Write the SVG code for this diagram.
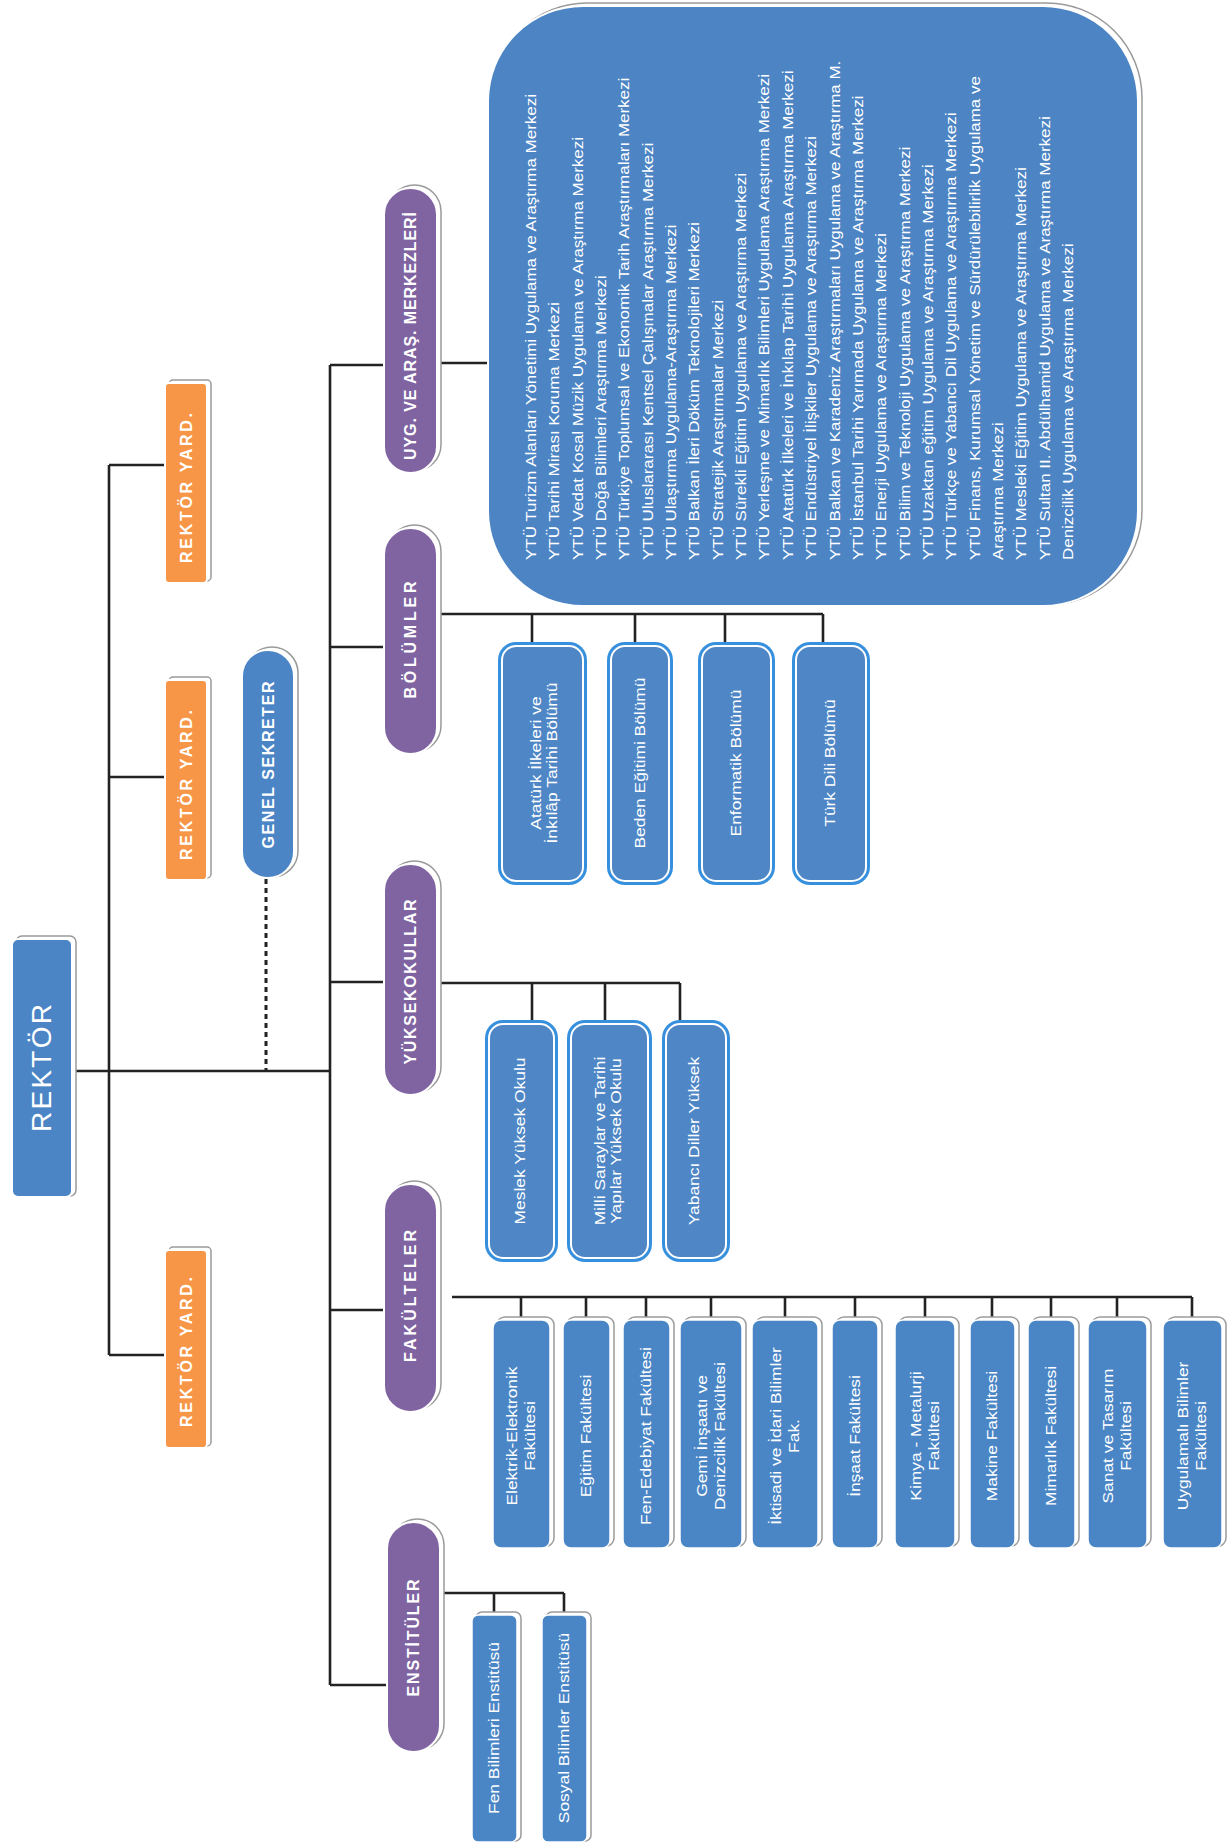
<svg xmlns="http://www.w3.org/2000/svg" width="1229" height="1846" viewBox="0 0 1229 1846">
<style>
.ln{fill:none;stroke:#222;stroke-width:2.6}
.dot{fill:none;stroke:#222;stroke-width:3;stroke-dasharray:5 4}
.sh{fill:#fff;stroke:#9a9a9a;stroke-width:1.5}
.pur{fill:#8064a2;stroke:#fff;stroke-width:2}
.org{fill:#f79646;stroke:#fff;stroke-width:2}
.blu{fill:#4b85c6;stroke:#fff;stroke-width:2}
.fk{fill:#4a86c6;stroke:#fff;stroke-width:1.5}
.ring{fill:#3790de}
.inr{fill:#4f87c6;stroke:#fff;stroke-width:2}
text{font-family:"Liberation Sans",Arial,sans-serif;fill:#fff}
.hd{font-size:16px;font-weight:bold}
.bx{font-size:14.5px}
.ls{font-size:14.5px}
</style>
<rect width="1229" height="1846" fill="#fff"/>

<g id="connectors">
<path class="ln" d="M72 1071H330M109 465V1355M109 465H165M109 777H165M109 1355H165"/>
<path class="ln" d="M330 365V1685M330 365H384M330 647H384M330 982H384M330 1310H384M330 1685H387"/>
<path class="ln" d="M437 363H488"/>
<path class="ln" d="M437 614H823M532 614V643M635 614V643M725 614V643M823 614V643"/>
<path class="ln" d="M437 983H680M532 983V1021M605 983V1021M680 983V1021"/>
<path class="ln" d="M452 1297H1192M521 1297V1320M586 1297V1320M646 1297V1320M711 1297V1320M785 1297V1320M855 1297V1320M925 1297V1320M992 1297V1320M1051 1297V1320M1117 1297V1320M1192 1297V1320"/>
<path class="ln" d="M442 1593H564M494 1593V1615M564 1593V1615"/>
<path class="dot" d="M266 879V1071"/>
</g>

<g id="rektor">
<rect class="sh" x="16" y="936" width="60" height="260" rx="6"/>
<rect class="blu" x="12" y="939" width="60" height="258" rx="6"/>
<text transform="translate(41,1068) rotate(-90)" text-anchor="middle" y="10" font-size="28" textLength="128" lengthAdjust="spacing">REKTÖR</text>
</g>

<g id="rektor-yard-1">
<rect class="sh" x="169" y="380" width="42" height="201" rx="4"/>
<rect class="org" x="165" y="383" width="42" height="200" rx="4"/>
<text class="hd" transform="translate(186,488) rotate(-90)" text-anchor="middle" y="6" textLength="150" lengthAdjust="spacing">REKTÖR YARD.</text>
</g>
<g id="rektor-yard-2">
<rect class="sh" x="169" y="677" width="42" height="201" rx="4"/>
<rect class="org" x="165" y="680" width="42" height="200" rx="4"/>
<text class="hd" transform="translate(186,785) rotate(-90)" text-anchor="middle" y="6" textLength="150" lengthAdjust="spacing">REKTÖR YARD.</text>
</g>
<g id="rektor-yard-3">
<rect class="sh" x="169" y="1247" width="42" height="199" rx="4"/>
<rect class="org" x="165" y="1250" width="42" height="198" rx="4"/>
<text class="hd" transform="translate(186,1352) rotate(-90)" text-anchor="middle" y="6" textLength="150" lengthAdjust="spacing">REKTÖR YARD.</text>
</g>

<g id="genel-sekreter">
<rect class="sh" x="246" y="647" width="52" height="230" rx="26"/>
<rect class="blu" x="242" y="650" width="52" height="228" rx="26"/>
<text class="hd" transform="translate(268,765) rotate(-90)" text-anchor="middle" y="6" textLength="167" lengthAdjust="spacing">GENEL SEKRETER</text>
</g>

<g id="uyg-arastirma">
<rect class="sh" x="388" y="185" width="53" height="286" rx="26.5"/>
<rect class="pur" x="384" y="188" width="53" height="285" rx="26.5"/>
<text class="hd" transform="translate(410,336) rotate(-90)" text-anchor="middle" y="6" textLength="248" lengthAdjust="spacing">UYG. VE ARAŞ. MERKEZLERİ</text>
</g>
<g id="bolumler">
<rect class="sh" x="388" y="525" width="53" height="227" rx="26.5"/>
<rect class="pur" x="384" y="528" width="53" height="226" rx="26.5"/>
<text class="hd" transform="translate(410,640) rotate(-90)" text-anchor="middle" y="6" textLength="117" lengthAdjust="spacing">BÖLÜMLER</text>
</g>
<g id="yuksekokullar">
<rect class="sh" x="388" y="861" width="53" height="232" rx="26.5"/>
<rect class="pur" x="384" y="864" width="53" height="231" rx="26.5"/>
<text class="hd" transform="translate(410,982) rotate(-90)" text-anchor="middle" y="6" textLength="165" lengthAdjust="spacing">YÜKSEKOKULLAR</text>
</g>
<g id="fakulteler">
<rect class="sh" x="388" y="1181" width="53" height="229" rx="26.5"/>
<rect class="pur" x="384" y="1184" width="53" height="228" rx="26.5"/>
<text class="hd" transform="translate(410,1296) rotate(-90)" text-anchor="middle" y="6" textLength="132" lengthAdjust="spacing">FAKÜLTELER</text>
</g>
<g id="enstituler">
<rect class="sh" x="391" y="1519" width="53" height="231" rx="26.5"/>
<rect class="pur" x="387" y="1522" width="53" height="230" rx="26.5"/>
<text class="hd" transform="translate(413,1638) rotate(-90)" text-anchor="middle" y="6" textLength="117" lengthAdjust="spacing">ENSTİTÜLER</text>
</g>

<g id="merkezler-listesi">
<rect class="sh" x="492" y="3" width="650" height="602" rx="95"/>
<rect fill="#4c84c4" stroke="#fff" stroke-width="2" x="488" y="6" width="650" height="600" rx="95"/>
<text class="ls" transform="translate(0,560) rotate(-90) scale(1.17,1)">
<tspan x="0" y="536">YTÜ Turizm Alanları Yönetimi Uygulama ve Araştırma Merkezi</tspan>
<tspan x="0" y="559.4">YTÜ Tarihi Mirası Koruma Merkezi</tspan>
<tspan x="0" y="582.7">YTÜ Vedat Kosal Müzik Uygulama ve Araştırma Merkezi</tspan>
<tspan x="0" y="606.1">YTÜ Doğa Bilimleri Araştırma Merkezi</tspan>
<tspan x="0" y="629.4">YTÜ Türkiye Toplumsal ve Ekonomik Tarih Araştırmaları Merkezi</tspan>
<tspan x="0" y="652.8">YTÜ Uluslararası Kentsel Çalışmalar Araştırma Merkezi</tspan>
<tspan x="0" y="676.1">YTÜ Ulaştırma Uygulama-Araştırma Merkezi</tspan>
<tspan x="0" y="699.5">YTÜ Balkan İleri Döküm Teknolojileri Merkezi</tspan>
<tspan x="0" y="722.8">YTÜ Stratejik Araştırmalar Merkezi</tspan>
<tspan x="0" y="746.2">YTÜ Sürekli Eğitim Uygulama ve Araştırma Merkezi</tspan>
<tspan x="0" y="769.5">YTÜ Yerleşme ve Mimarlık Bilimleri Uygulama Araştırma Merkezi</tspan>
<tspan x="0" y="792.9">YTÜ Atatürk İlkeleri ve İnkılap Tarihi Uygulama Araştırma Merkezi</tspan>
<tspan x="0" y="816.2">YTÜ Endüstriyel İlişkiler Uygulama ve Araştırma Merkezi</tspan>
<tspan x="0" y="839.6">YTÜ Balkan ve Karadeniz Araştırmaları Uygulama ve Araştırma M.</tspan>
<tspan x="0" y="862.9">YTÜ İstanbul Tarihi Yarımada Uygulama ve Araştırma Merkezi</tspan>
<tspan x="0" y="886.3">YTÜ Enerji Uygulama ve Araştırma Merkezi</tspan>
<tspan x="0" y="909.6">YTÜ Bilim ve Teknoloji Uygulama ve Araştırma Merkezi</tspan>
<tspan x="0" y="933">YTÜ Uzaktan eğitim Uygulama ve Araştırma Merkezi</tspan>
<tspan x="0" y="956.3">YTÜ Türkçe ve Yabancı Dil Uygulama ve Araştırma Merkezi</tspan>
<tspan x="0" y="979.7">YTÜ Finans, Kurumsal Yönetim ve Sürdürülebilirlik Uygulama ve</tspan>
<tspan x="0" y="1003">Araştırma Merkezi</tspan>
<tspan x="0" y="1026.4">YTÜ Mesleki Eğitim Uygulama ve Araştırma Merkezi</tspan>
<tspan x="0" y="1049.7">YTÜ Sultan II. Abdülhamid Uygulama ve Araştırma Merkezi</tspan>
<tspan x="0" y="1073.1">Denizcilik Uygulama ve Araştırma Merkezi</tspan>
</text>
</g>

<g id="bolum-ataturk">
<rect class="ring" x="498" y="642" width="89" height="243" rx="18"/>
<rect class="inr" x="502" y="646" width="81" height="235" rx="14"/>
<text class="bx" transform="translate(544,763) rotate(-90) scale(1.2,1)" text-anchor="middle"><tspan x="0" y="-3.5">Atatürk İlkeleri ve</tspan><tspan x="0" y="13.5">İnkılâp Tarihi Bölümü</tspan></text>
</g>
<g id="bolum-beden">
<rect class="ring" x="607" y="642" width="66" height="243" rx="18"/>
<rect class="inr" x="611" y="646" width="58" height="235" rx="14"/>
<text class="bx" transform="translate(640,763) rotate(-90) scale(1.2,1)" text-anchor="middle" y="5">Beden Eğitimi Bölümü</text>
</g>
<g id="bolum-enformatik">
<rect class="ring" x="698" y="642" width="77" height="243" rx="18"/>
<rect class="inr" x="702" y="646" width="69" height="235" rx="14"/>
<text class="bx" transform="translate(736,763) rotate(-90) scale(1.2,1)" text-anchor="middle" y="5">Enformatik Bölümü</text>
</g>
<g id="bolum-turkdili">
<rect class="ring" x="792" y="642" width="78" height="243" rx="18"/>
<rect class="inr" x="796" y="646" width="70" height="235" rx="14"/>
<text class="bx" transform="translate(830,763) rotate(-90) scale(1.2,1)" text-anchor="middle" y="5">Türk Dili Bölümü</text>
</g>

<g id="yo-meslek">
<rect class="ring" x="485" y="1020" width="73" height="242" rx="18"/>
<rect class="inr" x="489" y="1024" width="65" height="234" rx="14"/>
<text class="bx" transform="translate(520,1141) rotate(-90) scale(1.2,1)" text-anchor="middle" y="5">Meslek Yüksek Okulu</text>
</g>
<g id="yo-milli-saraylar">
<rect class="ring" x="567" y="1020" width="85" height="242" rx="18"/>
<rect class="inr" x="571" y="1024" width="77" height="234" rx="14"/>
<text class="bx" transform="translate(608,1141) rotate(-90) scale(1.2,1)" text-anchor="middle"><tspan x="0" y="-3.5">Milli Saraylar ve Tarihi</tspan><tspan x="0" y="13.5">Yapılar Yüksek Okulu</tspan></text>
</g>
<g id="yo-yabanci-diller">
<rect class="ring" x="662" y="1020" width="68" height="242" rx="18"/>
<rect class="inr" x="666" y="1024" width="60" height="234" rx="14"/>
<text class="bx" transform="translate(694,1141) rotate(-90) scale(1.2,1)" text-anchor="middle" y="5">Yabancı Diller Yüksek</text>
</g>

<g id="fak-elektrik">
<rect class="sh" x="497" y="1317" width="57" height="229" rx="8"/>
<rect class="fk" x="493" y="1320" width="57" height="228" rx="8"/>
<text class="bx" transform="translate(521,1436) rotate(-90) scale(1.2,1)" text-anchor="middle"><tspan x="0" y="-4">Elektrik-Elektronik</tspan><tspan x="0" y="14">Fakültesi</tspan></text>
</g>
<g id="fak-egitim">
<rect class="sh" x="567" y="1317" width="47" height="229" rx="8"/>
<rect class="fk" x="563" y="1320" width="47" height="228" rx="8"/>
<text class="bx" transform="translate(586,1436) rotate(-90) scale(1.2,1)" text-anchor="middle" y="5">Eğitim Fakültesi</text>
</g>
<g id="fak-fen-edebiyat">
<rect class="sh" x="627" y="1317" width="47" height="229" rx="8"/>
<rect class="fk" x="623" y="1320" width="47" height="228" rx="8"/>
<text class="bx" transform="translate(646,1436) rotate(-90) scale(1.2,1)" text-anchor="middle" y="5">Fen-Edebiyat Fakültesi</text>
</g>
<g id="fak-gemi">
<rect class="sh" x="684" y="1317" width="62" height="229" rx="8"/>
<rect class="fk" x="680" y="1320" width="62" height="228" rx="8"/>
<text class="bx" transform="translate(711,1436) rotate(-90) scale(1.2,1)" text-anchor="middle"><tspan x="0" y="-4">Gemi İnşaatı ve</tspan><tspan x="0" y="14">Denizcilik Fakültesi</tspan></text>
</g>
<g id="fak-iktisadi">
<rect class="sh" x="756" y="1317" width="66" height="229" rx="8"/>
<rect class="fk" x="752" y="1320" width="66" height="228" rx="8"/>
<text class="bx" transform="translate(785,1436) rotate(-90) scale(1.2,1)" text-anchor="middle"><tspan x="0" y="-4">İktisadi ve İdari Bilimler</tspan><tspan x="0" y="14">Fak.</tspan></text>
</g>
<g id="fak-insaat">
<rect class="sh" x="836" y="1317" width="46" height="229" rx="8"/>
<rect class="fk" x="832" y="1320" width="46" height="228" rx="8"/>
<text class="bx" transform="translate(855,1436) rotate(-90) scale(1.2,1)" text-anchor="middle" y="5">İnşaat Fakültesi</text>
</g>
<g id="fak-kimya">
<rect class="sh" x="899" y="1317" width="60" height="229" rx="8"/>
<rect class="fk" x="895" y="1320" width="60" height="228" rx="8"/>
<text class="bx" transform="translate(925,1436) rotate(-90) scale(1.2,1)" text-anchor="middle"><tspan x="0" y="-4">Kimya - Metalurji</tspan><tspan x="0" y="14">Fakültesi</tspan></text>
</g>
<g id="fak-makine">
<rect class="sh" x="974" y="1317" width="45" height="229" rx="8"/>
<rect class="fk" x="970" y="1320" width="45" height="228" rx="8"/>
<text class="bx" transform="translate(992,1436) rotate(-90) scale(1.2,1)" text-anchor="middle" y="5">Makine Fakültesi</text>
</g>
<g id="fak-mimarlik">
<rect class="sh" x="1032" y="1317" width="47" height="229" rx="8"/>
<rect class="fk" x="1028" y="1320" width="47" height="228" rx="8"/>
<text class="bx" transform="translate(1051,1436) rotate(-90) scale(1.2,1)" text-anchor="middle" y="5">Mimarlık Fakültesi</text>
</g>
<g id="fak-sanat">
<rect class="sh" x="1092" y="1317" width="59" height="229" rx="8"/>
<rect class="fk" x="1088" y="1320" width="59" height="228" rx="8"/>
<text class="bx" transform="translate(1117,1436) rotate(-90) scale(1.2,1)" text-anchor="middle"><tspan x="0" y="-4">Sanat ve Tasarım</tspan><tspan x="0" y="14">Fakültesi</tspan></text>
</g>
<g id="fak-uygulamali">
<rect class="sh" x="1167" y="1317" width="59" height="229" rx="8"/>
<rect class="fk" x="1163" y="1320" width="59" height="228" rx="8"/>
<text class="bx" transform="translate(1192,1436) rotate(-90) scale(1.2,1)" text-anchor="middle"><tspan x="0" y="-4">Uygulamalı Bilimler</tspan><tspan x="0" y="14">Fakültesi</tspan></text>
</g>

<g id="ens-fen">
<rect class="sh" x="476" y="1612" width="45" height="229" rx="6"/>
<rect class="fk" x="472" y="1615" width="45" height="227" rx="6"/>
<text class="bx" transform="translate(494,1728) rotate(-90) scale(1.2,1)" text-anchor="middle" y="5">Fen Bilimleri Enstitüsü</text>
</g>
<g id="ens-sosyal">
<rect class="sh" x="546" y="1612" width="45" height="229" rx="6"/>
<rect class="fk" x="542" y="1615" width="45" height="227" rx="6"/>
<text class="bx" transform="translate(564,1728) rotate(-90) scale(1.2,1)" text-anchor="middle" y="5">Sosyal Bilimler Enstitüsü</text>
</g>
</svg>
